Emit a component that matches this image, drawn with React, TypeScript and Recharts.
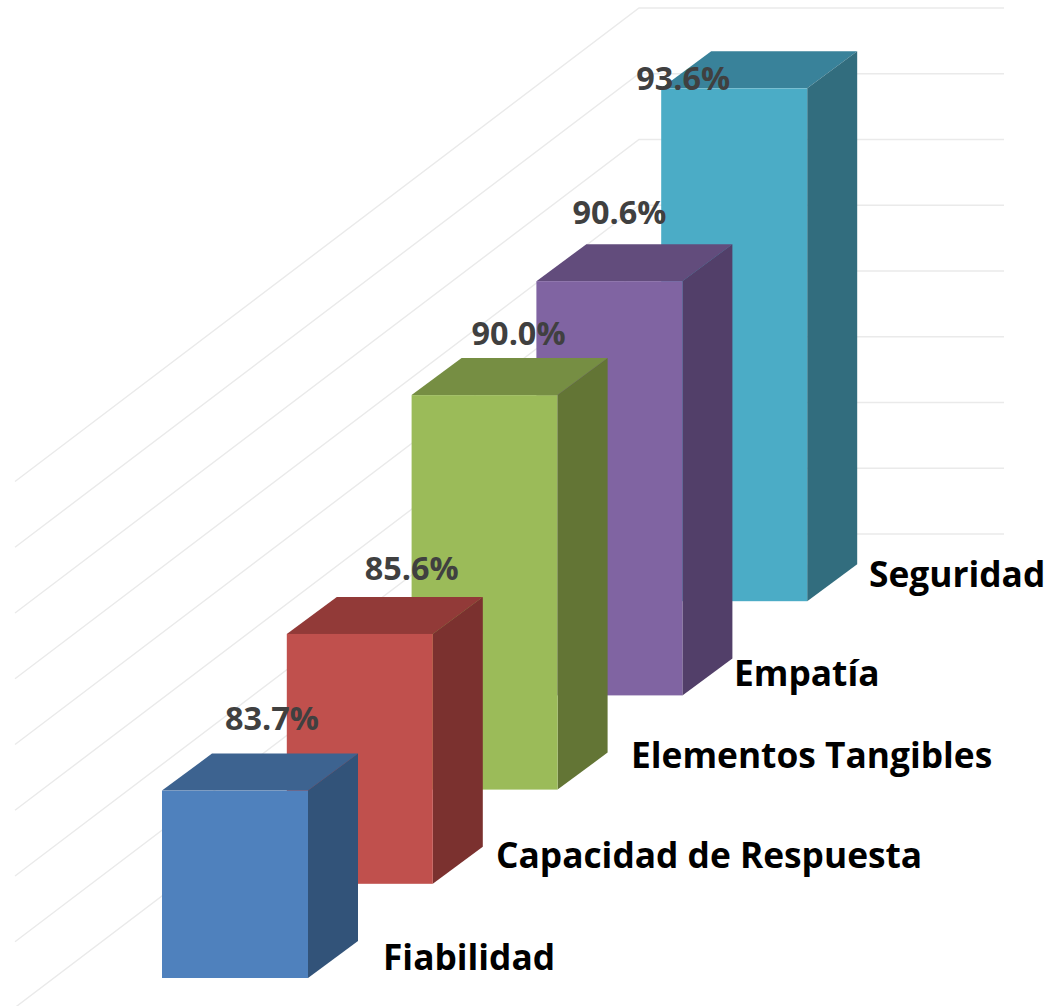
import React from 'react';
import { BarChart, Bar, XAxis, YAxis, CartesianGrid, LabelList } from 'recharts';

const categories = ['Fiabilidad', 'Capacidad de Respuesta', 'Elementos Tangibles', 'Empatía', 'Seguridad'];
const scores = [83.7, 85.6, 90.0, 90.6, 93.6];
const gridTicks = [78, 80, 82, 84, 86, 88, 90, 92, 94];

const frontColors = ['#4F81BD', '#C0504D', '#9BBB59', '#8064A2', '#4BACC6'];
const topColors = ['#3D6390', '#923A38', '#768E43', '#624C7C', '#39829A'];
const sideColors = ['#325379', '#7B312F', '#637535', '#523F69', '#326D7E'];

// drawn back to front, so the axis is reversed and the nearest bar comes last
const rows = categories
  .map((name, i) => ({ name, value: scores[i], rank: i }))
  .reverse();

const BAR_W = 146;
const DEPTH_X = 50;
const DEPTH_Y = 37;
const ROW_SHIFT = 94.2; // each bar sits one row further back on the floor

// hand placed in the original, relative to the back edge of the top face
const valueNudge = [[37, -37], [52, -30], [34, -26], [10, -33], [-51, 26]];
const nameLeft = [383, 496, 631, 734, 869];
const nameNudge = [-22, -30, -36, -23, -28];

const Bar3D = (props: any) => {
  const { x, y, width, height, payload } = props;
  const r = payload.rank;
  const left = x + width / 2 - BAR_W / 2;
  const right = left + BAR_W;
  const top = y - r * ROW_SHIFT;
  const bottom = y + height - r * ROW_SHIFT;
  return (
    <g>
      <polygon
        points={`${left},${top} ${left + DEPTH_X},${top - DEPTH_Y} ${right + DEPTH_X},${top - DEPTH_Y} ${right},${top}`}
        fill={topColors[r]}
      />
      <polygon
        points={`${right},${top} ${right + DEPTH_X},${top - DEPTH_Y} ${right + DEPTH_X},${bottom - DEPTH_Y} ${right},${bottom}`}
        fill={sideColors[r]}
      />
      <rect x={left} y={top} width={BAR_W} height={bottom - top} fill={frontColors[r]} />
    </g>
  );
};

const ValueLabel = (props: any) => {
  const { x, y, width, index, value } = props;
  const r = rows[index].rank;
  return (
    <text
      x={x + width / 2 + valueNudge[r][0]}
      y={y - r * ROW_SHIFT - DEPTH_Y + valueNudge[r][1]}
      textAnchor="middle"
      dominantBaseline="central"
      fontFamily="'Open Sans'"
      fontWeight={700}
      fontSize={32.4}
      fill="#404040"
    >
      {Number(value).toFixed(1)}%
    </text>
  );
};

const NameLabel = (props: any) => {
  const { y, height, index, value } = props;
  const r = rows[index].rank;
  return (
    <text
      x={nameLeft[r]}
      y={y + height - r * ROW_SHIFT + nameNudge[r]}
      dominantBaseline="central"
      fontFamily="'Open Sans'"
      fontWeight={700}
      fontSize={35.3}
      fill="#000000"
    >
      {value}
    </text>
  );
};

// floor line slanting up to the back wall, then flat along it
const WallLine = (props: any) => {
  const back = props.y1 - 444;
  return (
    <path
      key={props.key ?? props.index}
      d={`M15,${back + 473.5} L639,${back} L1004,${back}`}
      fill="none"
      stroke="#EAEAEA"
      strokeWidth={1.4}
    />
  );
};

export default function App() {
  return (
    <div style={{ position: 'absolute', left: 0, top: 0, width: 1050, height: 1006 }}>
      <BarChart
        width={1050}
        height={1006}
        data={rows}
        barCategoryGap={0}
        margin={{ top: 452, right: 253.5, left: 172.5, bottom: 28 }}
      >
        <CartesianGrid vertical={false} horizontal={WallLine} horizontalValues={gridTicks} />
        <XAxis dataKey="name" type="category" reversed hide />
        <YAxis type="number" domain={[78, 94]} hide />
        <Bar dataKey="value" shape={Bar3D} isAnimationActive={false}>
          <LabelList dataKey="value" content={ValueLabel} />
          <LabelList dataKey="name" content={NameLabel} />
        </Bar>
      </BarChart>
    </div>
  );
}
